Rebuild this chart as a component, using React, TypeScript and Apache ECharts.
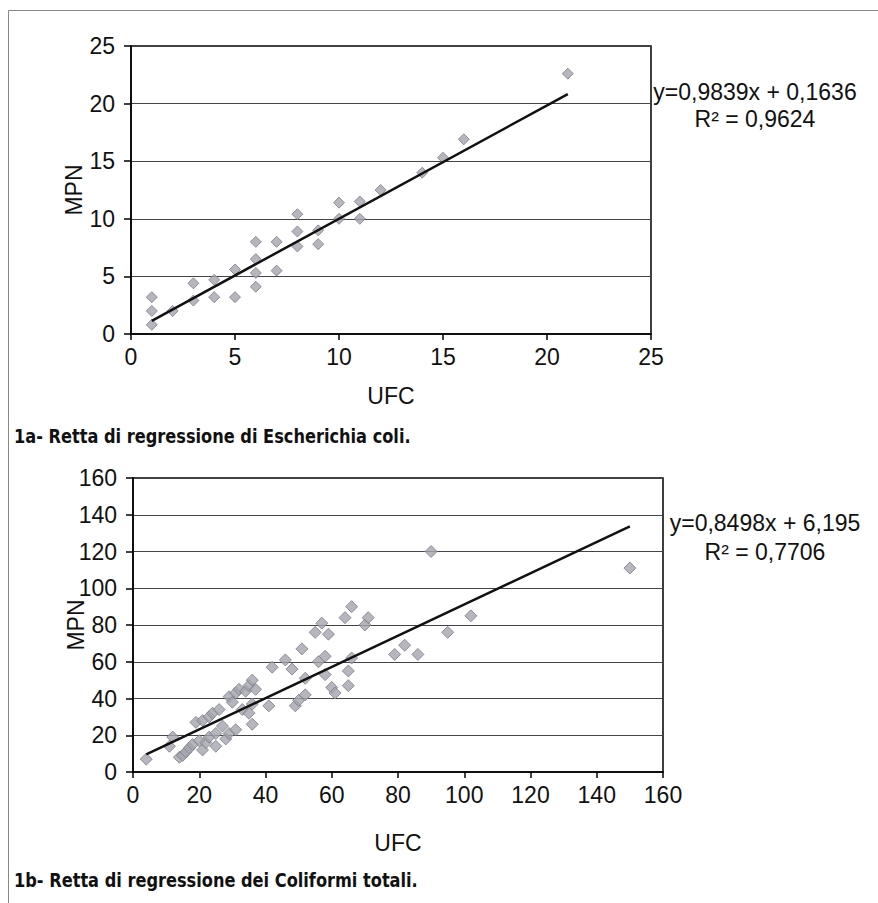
import React, { useEffect, useRef } from "react";
import * as echarts from "echarts";

// Fig. 1a - Escherichia coli
const ecoliUFC = [1, 1, 1, 2, 3, 3, 4, 4, 5, 5, 6, 6, 6, 6, 7, 7, 8, 8, 8, 9, 9, 10, 10, 11, 11, 12, 14, 15, 16, 21];
const ecoliMPN = [3.2, 2.0, 0.8, 2.0, 4.4, 2.9, 4.7, 3.2, 5.6, 3.2, 8.0, 6.5, 5.3, 4.1, 8.0, 5.5, 10.4, 8.9, 7.6, 9.0, 7.8, 11.4, 10.0, 11.5, 10.0, 12.5, 14.0, 15.3, 16.9, 22.6];
const ecoliSlope = 0.9839;
const ecoliIntercept = 0.1636;
const ecoliEq = "y=0,9839x + 0,1636";
const ecoliR2 = "R² = 0,9624";

// Fig. 1b - Coliformi totali
const colUFC = [4, 11, 12, 14, 15, 16, 17, 18, 19, 20, 21, 21, 22, 23, 23, 24, 25, 25, 26, 27, 28, 29, 29, 30, 31, 31, 32, 33, 34, 35, 35, 36, 36, 36, 37, 41, 42, 46, 48, 49, 50, 51, 52, 52, 55, 56, 57, 58, 58, 59, 60, 61, 64, 65, 65, 66, 66, 70, 71, 79, 82, 86, 90, 95, 102, 150];
const colMPN = [7, 14, 19, 8, 9, 11, 13, 15, 27, 17, 28, 12, 16, 19, 30, 32, 21, 14, 34, 25, 18, 21, 41, 38, 43, 23, 45, 34, 44, 32, 47, 26, 37, 50, 45, 36, 57, 61, 56, 36, 39, 67, 42, 51, 76, 60, 81, 63, 53, 75, 46, 43, 84, 55, 47, 90, 62, 80, 84, 64, 69, 64, 120, 76, 85, 111];
const colSlope = 0.8498;
const colIntercept = 6.195;
const colEq = "y=0,8498x + 6,195";
const colR2 = "R² = 0,7706";

const xRangeA = { min: 0, max: 25, interval: 5 };
const yRangeA = { min: 0, max: 25, interval: 5 };
const xRangeB = { min: 0, max: 160, interval: 20 };
const yRangeB = { min: 0, max: 160, interval: 20 };

const caption1a = "1a- Retta di regressione di Escherichia coli.";
const caption1b = "1b- Retta di regressione dei Coliformi totali.";

const FONT = "'Liberation Sans', Arial, Helvetica, sans-serif";
const CAPFONT = "'Liberation Sans Narrow', 'DejaVu Sans Condensed', 'Liberation Sans', sans-serif";
const FS = 23;

function trend(xs: number[], a: number, b: number) {
  const lo = Math.min(...xs);
  const hi = Math.max(...xs);
  return [
    [lo, a * lo + b],
    [hi, a * hi + b],
  ];
}

function xAxisCfg(gridIndex: number, r: any, gap: number) {
  return {
    type: "value",
    gridIndex,
    min: r.min,
    max: r.max,
    interval: r.interval,
    name: "UFC",
    nameLocation: "middle",
    nameGap: gap,
    nameTextStyle: { fontSize: FS, color: "#111", fontFamily: FONT },
    axisLine: { show: true, onZero: false, lineStyle: { color: "#000", width: 1.5 } },
    axisTick: { show: true, length: 6, lineStyle: { color: "#000", width: 1.5 } },
    axisLabel: { fontSize: FS, color: "#111", fontFamily: FONT, margin: 11 },
    splitLine: { show: false },
  };
}

function yAxisCfg(gridIndex: number, r: any) {
  return {
    type: "value",
    gridIndex,
    min: r.min,
    max: r.max,
    interval: r.interval,
    name: "MPN",
    nameLocation: "middle",
    nameGap: 46,
    nameMoveOverlap: false,
    nameTextStyle: { fontSize: FS, color: "#111", fontFamily: FONT },
    axisLine: { show: true, onZero: false, lineStyle: { color: "#000", width: 1.5 } },
    axisTick: { show: true, length: 7, lineStyle: { color: "#000", width: 1.5 } },
    axisLabel: { fontSize: FS, color: "#111", fontFamily: FONT, margin: 16 },
    splitLine: { show: true, lineStyle: { color: "#444", width: 1 } },
  };
}

export default function App() {
  const ref = useRef<HTMLDivElement>(null);
  useEffect(() => {
    if (!ref.current) return;
    const chart = echarts.init(ref.current, null, { renderer: "svg" });
    const markerStyle = { color: "#a4a4ae", borderColor: "#7c7c86", borderWidth: 1 };
    const txt = (text: string, x: number, y: number) => ({
      type: "text",
      x,
      y,
      style: { text, fontSize: FS, fontFamily: FONT, fill: "#111", textAlign: "center", textVerticalAlign: "middle" },
    });
    const cap = (text: string, y: number) => ({
      type: "text",
      x: 14,
      y,
      scaleX: 0.9,
      style: { text, fontSize: 20, fontWeight: "bold", fontFamily: CAPFONT, fill: "#111", textVerticalAlign: "middle" },
    });
    const option: any = {
      animation: false,
      backgroundColor: "#fff",
      grid: [
        { left: 131, top: 46, width: 520, height: 288, show: true, borderColor: "#000", borderWidth: 1.5, backgroundColor: "transparent" },
        { left: 133, top: 478, width: 530, height: 294, show: true, borderColor: "#000", borderWidth: 1.5, backgroundColor: "transparent" },
      ],
      xAxis: [xAxisCfg(0, xRangeA, 50), xAxisCfg(1, xRangeB, 59)],
      yAxis: [yAxisCfg(0, yRangeA), yAxisCfg(1, yRangeB)],
      series: [
        {
          type: "scatter",
          xAxisIndex: 0,
          yAxisIndex: 0,
          symbol: "diamond",
          symbolSize: 11,
          itemStyle: markerStyle,
          data: ecoliUFC.map((x, i) => [x, ecoliMPN[i]]),
          z: 3,
        },
        {
          type: "line",
          xAxisIndex: 0,
          yAxisIndex: 0,
          symbol: "none",
          lineStyle: { color: "#111", width: 2.5 },
          data: trend(ecoliUFC, ecoliSlope, ecoliIntercept),
          z: 4,
        },
        {
          type: "scatter",
          xAxisIndex: 1,
          yAxisIndex: 1,
          symbol: "diamond",
          symbolSize: 12,
          itemStyle: markerStyle,
          data: colUFC.map((x, i) => [x, colMPN[i]]),
          z: 3,
        },
        {
          type: "line",
          xAxisIndex: 1,
          yAxisIndex: 1,
          symbol: "none",
          lineStyle: { color: "#111", width: 2.5 },
          data: trend(colUFC, colSlope, colIntercept),
          z: 4,
        },
      ],
      graphic: [
        { type: "line", shape: { x1: 8.5, y1: 10.5, x2: 8.5, y2: 903 }, style: { stroke: "#888", lineWidth: 1 } },
        { type: "line", shape: { x1: 8.5, y1: 10.5, x2: 878, y2: 10.5 }, style: { stroke: "#888", lineWidth: 1 } },
        txt(ecoliEq, 755, 92),
        txt(ecoliR2, 755, 119),
        txt(colEq, 765, 523),
        txt(colR2, 765, 552),
        cap(caption1a, 436),
        cap(caption1b, 880),
      ],
    };
    chart.setOption(option);
    return () => chart.dispose();
  }, []);
  return (
    <div
      ref={ref}
      style={{ position: "absolute", left: 0, top: 0, width: 878, height: 903, background: "#fff" }}
    />
  );
}
